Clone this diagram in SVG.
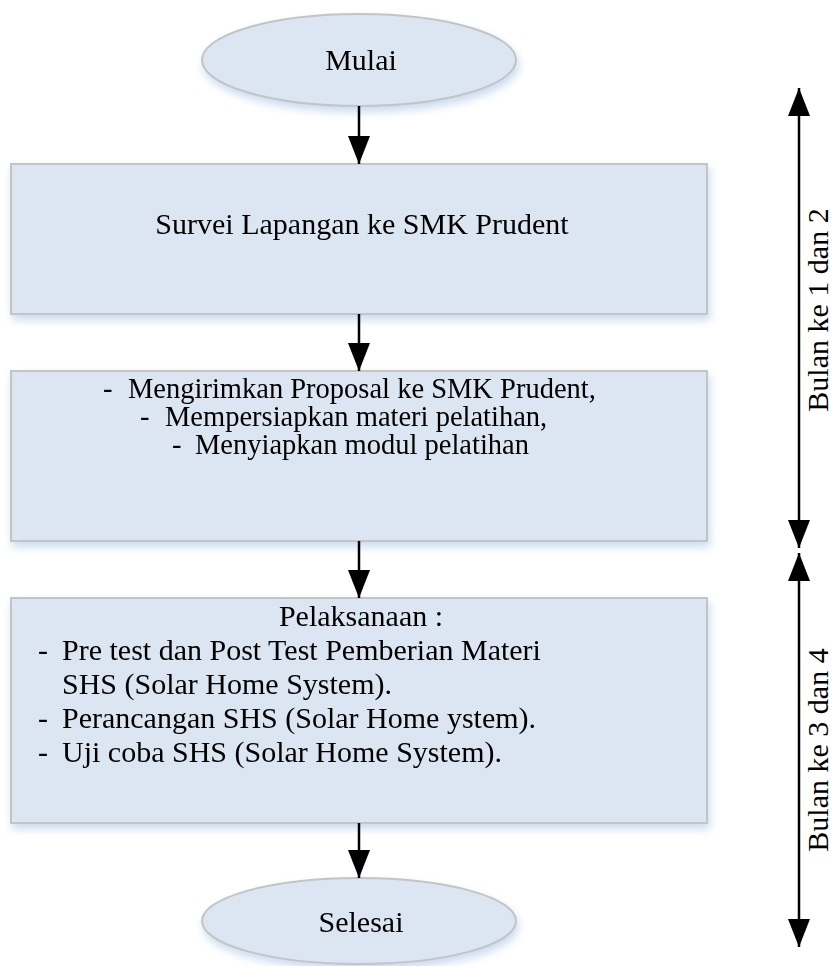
<svg xmlns="http://www.w3.org/2000/svg" width="834" height="966" viewBox="0 0 834 966">
<defs>
<style>
.box{fill:#dbe6f2;stroke:#c4c4c4;stroke-width:2}
.t{font-family:"Liberation Serif","Times New Roman",serif;font-size:30px;fill:#000}
.s{font-size:28.5px}
.c{text-anchor:middle}
.ln{stroke:#000;stroke-width:2.5;fill:none}
</style>
<filter id="sh" x="-10%" y="-10%" width="120%" height="130%">
<feGaussianBlur in="SourceAlpha" stdDeviation="4"/>
<feOffset dx="2" dy="5" result="b"/>
<feFlood flood-color="#bcd2ec" flood-opacity="0.8"/>
<feComposite in2="b" operator="in"/>
<feMerge><feMergeNode/><feMergeNode in="SourceGraphic"/></feMerge>
</filter>
<marker id="ah" viewBox="0 0 28 22" refX="28" refY="11" markerWidth="28" markerHeight="22" markerUnits="userSpaceOnUse" orient="auto-start-reverse">
<path d="M0,0 L28,11 L0,22 Z" fill="#000"/>
</marker>
</defs>
<g id="mulai" filter="url(#sh)">
<ellipse class="box" cx="359" cy="60" rx="157" ry="46"/>
<text class="t c" x="361" y="70">Mulai</text>
</g>
<g id="survei" filter="url(#sh)">
<rect class="box" x="11" y="164" width="696" height="150"/>
<text class="t c" x="362" y="234">Survei Lapangan ke SMK Prudent</text>
</g>
<g id="persiapan" filter="url(#sh)">
<rect class="box" x="11" y="371" width="696" height="170"/>
<text class="t s"><tspan x="103" y="398">-</tspan><tspan x="128" y="398">Mengirimkan Proposal ke SMK Prudent,</tspan></text>
<text class="t s"><tspan x="140" y="426">-</tspan><tspan x="165" y="426">Mempersiapkan materi pelatihan,</tspan></text>
<text class="t s"><tspan x="172" y="454">-</tspan><tspan x="195" y="454">Menyiapkan modul pelatihan</tspan></text>
</g>
<g id="pelaksanaan" filter="url(#sh)">
<rect class="box" x="11" y="598" width="696" height="225"/>
<text class="t c" x="361" y="626">Pelaksanaan :</text>
<text class="t"><tspan x="38" y="660">-</tspan><tspan x="62" y="660">Pre test dan Post Test Pemberian Materi</tspan></text>
<text class="t" x="62" y="694">SHS (Solar Home System).</text>
<text class="t"><tspan x="38" y="728">-</tspan><tspan x="62" y="728">Perancangan SHS (Solar Home ystem).</tspan></text>
<text class="t"><tspan x="38" y="762">-</tspan><tspan x="62" y="762">Uji coba SHS (Solar Home System).</tspan></text>
</g>
<g id="selesai" filter="url(#sh)">
<ellipse class="box" cx="359" cy="921" rx="157" ry="43"/>
<text class="t c" x="361" y="932">Selesai</text>
</g>
<g id="bulan12">
<text class="t c" transform="translate(828,310) rotate(-90)">Bulan ke 1 dan 2</text>
</g>
<g id="bulan34">
<text class="t c" transform="translate(828,750) rotate(-90)">Bulan ke 3 dan 4</text>
</g>
<g id="connectors">
<line class="ln" x1="359" y1="106" x2="359" y2="164" marker-end="url(#ah)"/>
<line class="ln" x1="359" y1="314" x2="359" y2="371" marker-end="url(#ah)"/>
<line class="ln" x1="359" y1="541" x2="359" y2="598" marker-end="url(#ah)"/>
<line class="ln" x1="359" y1="823" x2="359" y2="878" marker-end="url(#ah)"/>
<line class="ln" x1="799" y1="88" x2="799" y2="548" marker-start="url(#ah)" marker-end="url(#ah)"/>
<line class="ln" x1="799" y1="553" x2="799" y2="947" marker-start="url(#ah)" marker-end="url(#ah)"/>
</g>
</svg>
